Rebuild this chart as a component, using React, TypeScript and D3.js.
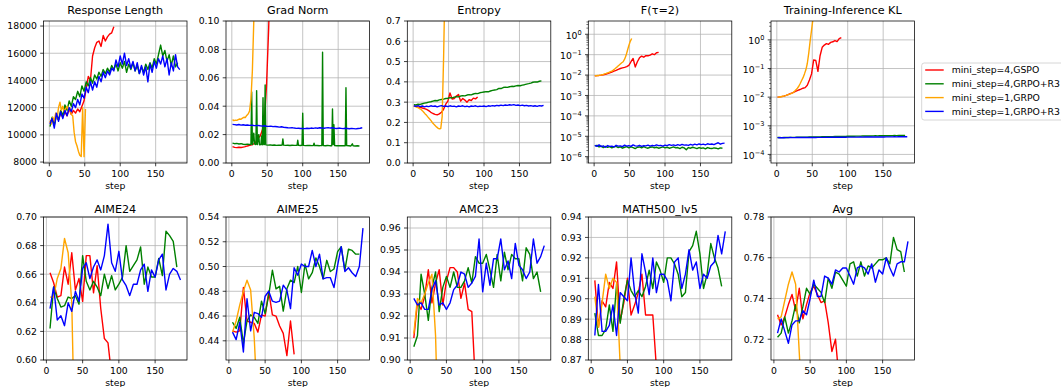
import React from "react";
import * as d3 from "d3";

const FONT = "DejaVu Sans, sans-serif";
const W = 1061;
const H = 387;

const LABELS = ["mini_step=4,GSPO", "mini_step=4,GRPO+R3", "mini_step=1,GRPO", "mini_step=1,GRPO+R3"];
const COLORS = ["red", "green", "orange", "blue"];

// ---- training curves (row 1) ----
const rlRed = [10900, 11200, 10800, 11500, 11100, 11600, 11300, 11700, 11400, 11900, 11500, 11800, 11600, 11900, 11700, 12100, 12500, 13400, 14300, 14000, 15800, 16400, 16800, 16900, 16500, 17300, 16900, 17200, 17400, 17500, 17950];
const rlGreen = [10600, 11300, 10700, 11400, 11100, 11800, 11400, 12200, 11800, 12500,
  12100, 12800, 12600, 13200, 12800, 13600, 13200, 13900, 13600, 14200,
  13800, 14400, 14100, 14600, 14300, 14800, 14500, 14900, 14600, 15100,
  14800, 15200, 14700, 15300, 14900, 15400, 14600, 15200, 14800, 15300,
  14700, 15100, 14500, 15000, 14600, 15200, 14800, 15300, 14900, 15600,
  15200, 15900, 16600, 15800, 16200, 15400, 15900, 15100, 15800, 15000,
  15300];
const rlOrange = [11000, 10800, 11300, 11000, 11600, 11200, 12000, 12400, 11800, 12100, 11700, 11900, 12100, 11800, 12000, 11500, 11400, 10200, 9500, 9200, 8800, 8500, 8400, 12000, 8400, 11900];
const rlBlue = [10800, 11200, 10500, 11600, 11000, 11700, 11200, 11800, 11400, 12000,
  11700, 12300, 12000, 12600, 12200, 13000, 12700, 13500, 13100, 13900,
  13300, 13900, 13500, 14300, 13900, 14600, 14200, 14700, 14400, 14900,
  14700, 15500, 15000, 15800, 15200, 16000, 15100, 15600, 14900, 15400,
  14700, 15300, 14500, 15100, 14400, 15000, 13900, 15200, 14600, 15400,
  14900, 15600, 15200, 15800, 15000, 15600, 14400, 15300, 14700, 15900,
  15000, 14800];

const gnRed = [0.0115, 0.011, 0.0108, 0.0111, 0.0109, 0.0112, 0.0115, 0.012, 0.0124, 0.0128, 0.0135, 0.015, 0.0175, 0.019, 0.023, 0.03, 0.055, 0.095, 0.15];
const gnGreen: [number, number][] = [
  [1, 0.014], [4, 0.0136], [7, 0.0138], [10, 0.0134], [13, 0.0136], [16, 0.0132], [19, 0.013], [22, 0.0133], [25, 0.013], [27, 0.0132],
  [28, 0.05], [29, 0.013], [31, 0.021], [32, 0.0135], [34, 0.013], [35, 0.051], [36, 0.013], [38, 0.02], [39, 0.0128], [41, 0.013],
  [42, 0.019], [43, 0.0128], [44, 0.046], [45, 0.013], [46, 0.013], [47, 0.055], [48, 0.0128], [51, 0.0126], [54, 0.0128], [57, 0.0125],
  [60, 0.0127], [63, 0.0124], [66, 0.0126], [69, 0.0125], [71, 0.0127], [72, 0.017], [73, 0.0126], [76, 0.0124], [79, 0.0125], [82, 0.0123],
  [85, 0.0125], [88, 0.0124], [92, 0.0124], [93, 0.016], [94, 0.0125], [97, 0.0123], [99, 0.0124], [100, 0.035], [101, 0.0124], [104, 0.0122],
  [107, 0.0124], [110, 0.0123], [113, 0.0122], [115, 0.0123], [116, 0.014], [117, 0.0122], [120, 0.0123], [124, 0.0122], [127, 0.0123], [128, 0.078],
  [129, 0.0122], [132, 0.0121], [135, 0.0123], [138, 0.0122], [141, 0.0122], [142, 0.038], [143, 0.013], [144, 0.027], [145, 0.0122], [148, 0.0121],
  [151, 0.0122], [154, 0.0121], [157, 0.0122], [160, 0.0122], [161, 0.053], [162, 0.0122], [165, 0.0121], [168, 0.012], [170, 0.0135], [171, 0.0121],
  [174, 0.012], [177, 0.0121], [180, 0.012],
];
const gnOrange = [0.0305, 0.0298, 0.0302, 0.03, 0.0306, 0.031, 0.0308, 0.0316, 0.0322, 0.032, 0.0335, 0.0345, 0.0365, 0.045, 0.065, 0.1, 0.14];
const gnBlue = [0.0272, 0.027, 0.0268, 0.0271, 0.0267, 0.0269, 0.0266, 0.0268, 0.0265, 0.0267,
  0.0264, 0.0263, 0.0265, 0.0262, 0.026, 0.0262, 0.0259, 0.0258, 0.026, 0.0256,
  0.0257, 0.0255, 0.0253, 0.0255, 0.0252, 0.025, 0.0248, 0.0247, 0.0249, 0.0246,
  0.0244, 0.0245, 0.0243, 0.0244, 0.0242, 0.0245, 0.0243, 0.0246, 0.0244, 0.0247,
  0.0245, 0.0248, 0.0246, 0.0245, 0.0247, 0.0249, 0.0246, 0.0248, 0.0245, 0.0243,
  0.0246, 0.0244, 0.0242, 0.0245, 0.0243, 0.0241, 0.0244, 0.0242, 0.024, 0.0243,
  0.0245, 0.0248];

const entRed = [0.28, 0.279, 0.276, 0.275, 0.271, 0.268, 0.264, 0.258, 0.25, 0.244, 0.24, 0.237, 0.242, 0.25, 0.265, 0.29, 0.305, 0.345, 0.315, 0.318, 0.33, 0.338, 0.305, 0.318, 0.31, 0.3, 0.312, 0.308, 0.32, 0.316, 0.325];
const entGreen = [0.288, 0.286, 0.29, 0.289, 0.292, 0.295, 0.297, 0.3, 0.302, 0.305,
  0.308, 0.307, 0.311, 0.313, 0.315, 0.318, 0.319, 0.322, 0.321, 0.325,
  0.327, 0.326, 0.33, 0.332, 0.331, 0.335, 0.337, 0.336, 0.34, 0.343,
  0.342, 0.346, 0.348, 0.35, 0.352, 0.351, 0.355, 0.358, 0.36, 0.362,
  0.368, 0.367, 0.372, 0.374, 0.373, 0.376, 0.378, 0.377, 0.38, 0.382,
  0.381, 0.384, 0.386, 0.389, 0.391, 0.394, 0.398, 0.4, 0.399, 0.403,
  0.405];
const entOrange = [0.282, 0.278, 0.275, 0.273, 0.268, 0.265, 0.258, 0.25, 0.242, 0.235, 0.226, 0.218, 0.21, 0.2, 0.192, 0.185, 0.178, 0.172, 0.168, 0.17, 0.23, 0.52, 0.9];
const entBlue = [0.282, 0.279, 0.283, 0.278, 0.281, 0.277, 0.28, 0.278, 0.282, 0.279,
  0.281, 0.277, 0.28, 0.283, 0.279, 0.281, 0.278, 0.282, 0.279, 0.28,
  0.277, 0.281, 0.279, 0.282, 0.278, 0.28, 0.277, 0.281, 0.279, 0.282,
  0.278, 0.28, 0.279, 0.281, 0.278, 0.282, 0.28, 0.283, 0.281, 0.284,
  0.282, 0.285, 0.283, 0.286, 0.284, 0.287, 0.285, 0.288, 0.284, 0.286,
  0.283, 0.285, 0.282, 0.284, 0.281, 0.283, 0.28, 0.282, 0.279, 0.283,
  0.281, 0.284];

const fRed = [0.0092, 0.0094, 0.0096, 0.0099, 0.0104, 0.011, 0.0118, 0.0128, 0.014, 0.0155, 0.017, 0.019, 0.021, 0.0225, 0.024, 0.026, 0.03, 0.045, 0.065, 0.025, 0.045, 0.07, 0.085, 0.075, 0.09, 0.088, 0.095, 0.11, 0.1, 0.125, 0.13];
const fGreen = [3.4, 3.6, 3.0, 3.3, 2.8, 3.2, 2.9, 3.1, 2.7, 3.0,
  3.2, 2.8, 3.0, 2.6, 2.9, 3.1, 2.7, 3.0, 2.8, 2.5,
  2.9, 3.0, 2.7, 3.1, 2.8, 2.6, 2.9, 3.0, 2.7, 2.9,
  2.6, 2.8, 3.0, 2.7, 2.9, 2.6, 2.8, 3.0, 2.7, 2.8,
  2.5, 2.9, 2.7, 2.2, 2.8, 2.6, 2.9, 2.7, 2.5, 2.8,
  2.6, 2.7, 2.4, 2.8, 2.6, 2.5, 2.7, 2.6, 2.4, 2.7,
  2.6].map((v) => v * 1e-6);
const fOrange = [0.0092, 0.0093, 0.0095, 0.0097, 0.01, 0.0104, 0.0108, 0.0114, 0.012, 0.0128, 0.0137, 0.0146, 0.0155, 0.0175, 0.02, 0.023, 0.026, 0.03, 0.035, 0.04, 0.045, 0.06, 0.09, 0.16, 0.28, 0.45, 0.62];
const fBlue = [3.6, 3.2, 3.8, 3.1, 3.4, 2.9, 3.5, 3.2, 3.3, 3.0,
  3.6, 3.3, 3.4, 3.1, 3.7, 3.3, 3.5, 3.2, 3.8, 3.4,
  3.3, 3.6, 3.2, 3.5, 3.4, 3.7, 3.3, 3.6, 3.4, 3.8,
  3.5, 3.6, 3.3, 3.7, 3.5, 3.9, 3.6, 3.8, 3.5, 3.9,
  3.6, 4.0, 3.7, 3.8, 3.6, 4.0, 3.7, 4.1, 3.8, 4.2,
  3.9, 4.1, 3.8, 4.3, 4.0, 4.2, 3.9, 4.4, 4.8, 4.1,
  4.5, 4.6].map((v) => v * 1e-6);

const klRed = [0.01, 0.0102, 0.0105, 0.0109, 0.0115, 0.0122, 0.0132, 0.0142, 0.0153, 0.0165, 0.0178, 0.019, 0.0205, 0.0215, 0.026, 0.04, 0.065, 0.2, 0.19, 0.08, 0.28, 0.55, 0.66, 0.74, 0.7, 0.82, 0.86, 0.95, 0.87, 1.1, 1.2];
const klGreen = [3.88, 3.9, 3.87, 3.91, 3.92, 3.9, 3.94, 3.95, 3.93, 3.97,
  3.99, 3.98, 4.01, 4.03, 4.02, 4.05, 4.07, 4.06, 4.09, 4.11,
  4.1, 4.13, 4.15, 4.14, 4.17, 4.19, 4.18, 4.21, 4.23, 4.22,
  4.25, 4.27, 4.26, 4.29, 4.31, 4.3, 4.33, 4.35, 4.34, 4.37,
  4.39, 4.38, 4.41, 4.43, 4.42, 4.45, 4.46, 4.44, 4.47, 4.49,
  4.48, 4.5, 4.52, 4.51, 4.53, 4.55, 4.54, 4.56, 4.58, 4.57,
  4.6].map((v) => v * 1e-4);
const klOrange = [0.01, 0.0101, 0.0103, 0.0105, 0.0108, 0.0111, 0.0115, 0.012, 0.0125, 0.013, 0.0136, 0.0145, 0.016, 0.018, 0.0205, 0.024, 0.03, 0.038, 0.048, 0.065, 0.09, 0.15, 0.34, 0.9, 2.2, 5.5];
const klBlue = [3.85, 3.83, 3.87, 3.84, 3.86, 3.85, 3.88, 3.86, 3.87, 3.89,
  3.88, 3.9, 3.89, 3.91, 3.9, 3.92, 3.91, 3.93, 3.92, 3.94,
  3.93, 3.95, 3.94, 3.96, 3.95, 3.97, 3.96, 3.98, 3.97, 3.99,
  3.98, 4.0, 3.99, 4.01, 4.0, 4.02, 4.01, 4.03, 4.02, 4.04,
  4.03, 4.05, 4.04, 4.06, 4.05, 4.07, 4.06, 4.08, 4.07, 4.09,
  4.08, 4.1, 4.09, 4.11, 4.1, 4.12, 4.11, 4.13, 4.12, 4.14,
  4.13, 4.15].map((v) => v * 1e-4);

// ---- evaluation curves (row 2), every 5 steps starting at 5 ----
const a24Red = [0.661, 0.654, 0.644, 0.645, 0.665, 0.653, 0.675, 0.649, 0.657, 0.641, 0.673, 0.673, 0.647, 0.666, 0.636, 0.615, 0.612, 0.589];
const a24Green = [0.622, 0.651, 0.643, 0.637, 0.638, 0.644, 0.643, 0.645, 0.639, 0.673,
  0.655, 0.649, 0.655, 0.651, 0.645, 0.66, 0.65, 0.659, 0.649, 0.653,
  0.658, 0.68, 0.662, 0.666, 0.67, 0.679, 0.653, 0.665, 0.658, 0.658,
  0.671, 0.659, 0.69, 0.687, 0.683, 0.665];
const a24Orange = [0.644, 0.644, 0.657, 0.664, 0.685, 0.675, 0.64, 0.52];
const a24Blue = [0.636, 0.651, 0.628, 0.631, 0.624, 0.64, 0.634, 0.648, 0.641, 0.664,
  0.668, 0.657, 0.665, 0.67, 0.663, 0.673, 0.695, 0.668, 0.662, 0.676,
  0.656, 0.652, 0.645, 0.653, 0.653, 0.663, 0.667, 0.648, 0.663, 0.658,
  0.67, 0.674, 0.649, 0.66, 0.664, 0.662, 0.656];

const a25Red = [0.448, 0.447, 0.448, 0.483, 0.456, 0.455, 0.454, 0.447, 0.461, 0.46, 0.48, 0.461, 0.46, 0.452, 0.446, 0.428, 0.456, 0.429];
const a25Green = [0.455, 0.45, 0.459, 0.438, 0.456, 0.461, 0.459, 0.454, 0.472, 0.462,
  0.477, 0.497, 0.482, 0.484, 0.464, 0.482, 0.489, 0.487, 0.5, 0.479,
  0.502, 0.49, 0.495, 0.507, 0.5, 0.49, 0.505, 0.496, 0.498, 0.512,
  0.516, 0.497, 0.514, 0.513, 0.51, 0.51];
const a25Orange = [0.447, 0.456, 0.469, 0.48, 0.489, 0.481, 0.442, 0.38];
const a25Blue = [0.447, 0.441, 0.455, 0.431, 0.474, 0.448, 0.463, 0.462, 0.459, 0.476,
  0.48, 0.472, 0.471, 0.472, 0.485, 0.481, 0.466, 0.499, 0.493, 0.502,
  0.5, 0.5, 0.513, 0.5, 0.51, 0.49, 0.491, 0.491, 0.483, 0.501,
  0.516, 0.496, 0.499, 0.495, 0.492, 0.5, 0.531];

const amcRed = [0.91, 0.926, 0.923, 0.929, 0.941, 0.926, 0.935, 0.941, 0.925, 0.936, 0.942, 0.942, 0.94, 0.928, 0.935, 0.923, 0.922, 0.889];
const amcGreen = [0.906, 0.911, 0.939, 0.93, 0.918, 0.933, 0.94, 0.922, 0.933, 0.938,
  0.933, 0.94, 0.933, 0.933, 0.936, 0.942, 0.935, 0.947, 0.944, 0.944,
  0.948, 0.941, 0.933, 0.948, 0.936, 0.949, 0.941, 0.948, 0.946, 0.946,
  0.936, 0.951, 0.948, 0.937, 0.94, 0.931];
const amcOrange = [0.912, 0.928, 0.926, 0.93, 0.935, 0.939, 0.911, 0.85];
const amcBlue = [0.928, 0.925, 0.926, 0.923, 0.923, 0.932, 0.936, 0.925, 0.926, 0.923,
  0.926, 0.932, 0.934, 0.94, 0.939, 0.933, 0.935, 0.938, 0.955, 0.931,
  0.944, 0.934, 0.946, 0.946, 0.955, 0.941, 0.945, 0.937, 0.953, 0.943,
  0.941, 0.937, 0.94, 0.955, 0.944, 0.947, 0.952];

const mathRed = [0.909, 0.886, 0.899, 0.896, 0.908, 0.905, 0.918, 0.889, 0.898, 0.91, 0.892, 0.897, 0.903, 0.912, 0.892, 0.892, 0.892, 0.866];
const mathGreen = [0.893, 0.882, 0.882, 0.885, 0.897, 0.884, 0.907, 0.888, 0.9, 0.909,
  0.904, 0.901, 0.904, 0.901, 0.906, 0.914, 0.905, 0.918, 0.914, 0.908,
  0.92, 0.92, 0.917, 0.912, 0.901, 0.903, 0.923, 0.926, 0.933, 0.922,
  0.905, 0.912, 0.927, 0.92, 0.915, 0.906];
const mathOrange = [0.901, 0.886, 0.898, 0.912, 0.905, 0.91, 0.908, 0.867];
const mathBlue = [0.882, 0.907, 0.884, 0.884, 0.887, 0.897, 0.882, 0.903, 0.901, 0.899,
  0.92, 0.903, 0.893, 0.922, 0.913, 0.902, 0.92, 0.903, 0.912, 0.912,
  0.909, 0.899, 0.918, 0.92, 0.905, 0.912, 0.924, 0.914, 0.918, 0.905,
  0.912, 0.91, 0.916, 0.918, 0.931, 0.922, 0.933];

const avgRed = [0.732, 0.727, 0.731, 0.737, 0.742, 0.734, 0.745, 0.73, 0.737, 0.743, 0.746, 0.742, 0.738, 0.739, 0.728, 0.714, 0.72, 0.7];
const avgGreen = [0.721, 0.723, 0.731, 0.723, 0.729, 0.737, 0.728, 0.736, 0.745, 0.742,
  0.747, 0.745, 0.743, 0.738, 0.75, 0.745, 0.753, 0.752, 0.749, 0.746,
  0.757, 0.758, 0.751, 0.758, 0.751, 0.756, 0.755, 0.757, 0.759, 0.759,
  0.76, 0.757, 0.77, 0.764, 0.763, 0.753];
const avgOrange = [0.73, 0.731, 0.739, 0.747, 0.753, 0.747, 0.7135, 0.68];
const avgBlue = [0.723, 0.73, 0.724, 0.718, 0.727, 0.729, 0.729, 0.734, 0.732, 0.74,
  0.749, 0.741, 0.741, 0.751, 0.75, 0.747, 0.754, 0.753, 0.755, 0.755,
  0.751, 0.747, 0.755, 0.756, 0.755, 0.752, 0.757, 0.748, 0.754, 0.752,
  0.76, 0.755, 0.751, 0.757, 0.758, 0.758, 0.768];

type Pt = [number, number];
const seq = (vals: number[], start: number, stride: number): Pt[] =>
  vals.map((v, i) => [start + i * stride, v] as Pt);
const evalSeq = (vals: number[]) => seq(vals, 5, 5);

// layout (px)
const LEFTS = [43.5, 226, 407.3, 588.3, 771];
const AX_W = 143.5;
const ROWS = [
  { top: 21, bottom: 163, titleY: 14.3, xDomain: [-8.2, 194.2] },
  { top: 217, bottom: 360, titleY: 212.7, xDomain: [-4, 194] },
];
const TICK = 3.3;

interface PanelCfg {
  title: string;
  row: number;
  col: number;
  yDomain: [number, number];
  log?: boolean;
  yTicks?: number[];
  fmt?: (v: number) => string;
  series: Pt[][]; // red, green, orange, blue
}

const f2 = d3.format(".2f");
const f1 = d3.format(".1f");

const panels: PanelCfg[] = [
  { title: "Response Length", row: 0, col: 0, yDomain: [7930, 18370], yTicks: d3.range(8000, 18001, 2000), fmt: (v) => String(v),
    series: [seq(rlRed, 1, 3), seq(rlGreen, 1, 3), seq(rlOrange, 1, 2), seq(rlBlue, 1, 3)] },
  { title: "Grad Norm", row: 0, col: 1, yDomain: [0, 0.1], yTicks: [0, 0.02, 0.04, 0.06, 0.08, 0.1], fmt: f2,
    series: [seq(gnRed, 1, 3), gnGreen, seq(gnOrange, 1, 2), seq(gnBlue, 1, 3)] },
  { title: "Entropy", row: 0, col: 2, yDomain: [0, 0.7], yTicks: [0, 0.1, 0.2, 0.3, 0.4, 0.5, 0.6, 0.7], fmt: f1,
    series: [seq(entRed, 1, 3), seq(entGreen, 1, 3), seq(entOrange, 1, 2), seq(entBlue, 1, 3)] },
  { title: "F(τ=2)", row: 0, col: 3, yDomain: [Math.pow(10, -6.31), Math.pow(10, 0.65)], log: true,
    series: [seq(fRed, 1, 3), seq(fGreen, 1, 3), seq(fOrange, 1, 2), seq(fBlue, 1, 3)] },
  { title: "Training-Inference KL", row: 0, col: 4, yDomain: [Math.pow(10, -4.3), Math.pow(10, 0.66)], log: true,
    series: [seq(klRed, 1, 3), seq(klGreen, 1, 3), seq(klOrange, 1, 2), seq(klBlue, 1, 3)] },
  { title: "AIME24", row: 1, col: 0, yDomain: [0.6, 0.7], yTicks: [0.6, 0.62, 0.64, 0.66, 0.68, 0.7], fmt: f2,
    series: [evalSeq(a24Red), evalSeq(a24Green), evalSeq(a24Orange), evalSeq(a24Blue)] },
  { title: "AIME25", row: 1, col: 1, yDomain: [0.4245, 0.54], yTicks: [0.44, 0.46, 0.48, 0.5, 0.52, 0.54], fmt: f2,
    series: [evalSeq(a25Red), evalSeq(a25Green), evalSeq(a25Orange), evalSeq(a25Blue)] },
  { title: "AMC23", row: 1, col: 2, yDomain: [0.9, 0.965], yTicks: [0.9, 0.91, 0.92, 0.93, 0.94, 0.95, 0.96], fmt: f2,
    series: [evalSeq(amcRed), evalSeq(amcGreen), evalSeq(amcOrange), evalSeq(amcBlue)] },
  { title: "MATH500_lv5", row: 1, col: 3, yDomain: [0.87, 0.94], yTicks: [0.87, 0.88, 0.89, 0.9, 0.91, 0.92, 0.93, 0.94], fmt: f2,
    series: [evalSeq(mathRed), evalSeq(mathGreen), evalSeq(mathOrange), evalSeq(mathBlue)] },
  { title: "Avg", row: 1, col: 4, yDomain: [0.7098, 0.78], yTicks: [0.72, 0.74, 0.76, 0.78], fmt: f2,
    series: [evalSeq(avgRed), evalSeq(avgGreen), evalSeq(avgOrange), evalSeq(avgBlue)] },
];

const X_TICKS = [0, 50, 100, 150];

function Panel({ p }: { p: PanelCfg }) {
  const r = ROWS[p.row];
  const x0 = LEFTS[p.col];
  const x = d3.scaleLinear().domain(r.xDomain).range([x0, x0 + AX_W]);
  const y = p.log
    ? d3.scaleLog().domain(p.yDomain).range([r.bottom, r.top])
    : d3.scaleLinear().domain(p.yDomain).range([r.bottom, r.top]);
  const line = d3
    .line<Pt>()
    .x((d) => x(d[0]))
    .y((d) => y(d[1]));
  const clipId = `clip-${p.row}-${p.col}`;

  let major: number[] = p.yTicks ?? [];
  const minor: number[] = [];
  if (p.log) {
    const lo = Math.floor(Math.log10(p.yDomain[0]));
    const hi = Math.ceil(Math.log10(p.yDomain[1]));
    major = [];
    for (let k = lo; k <= hi; k++) {
      const v = Math.pow(10, k);
      if (v >= p.yDomain[0] && v <= p.yDomain[1]) major.push(k);
      for (let m = 2; m <= 9; m++) {
        const mv = m * v;
        if (mv >= p.yDomain[0] && mv <= p.yDomain[1]) minor.push(mv);
      }
    }
  }
  const yOf = (t: number) => (p.log ? y(Math.pow(10, t)) : y(t));

  return (
    <g>
      <defs>
        <clipPath id={clipId}>
          <rect x={x0} y={r.top} width={AX_W} height={r.bottom - r.top} />
        </clipPath>
      </defs>
      {/* grid */}
      <g stroke="#b0b0b0" strokeWidth={0.75}>
        {X_TICKS.map((t) => (
          <line key={`gx${t}`} x1={x(t)} x2={x(t)} y1={r.top} y2={r.bottom} />
        ))}
        {major.map((t) => (
          <line key={`gy${t}`} x1={x0} x2={x0 + AX_W} y1={yOf(t)} y2={yOf(t)} />
        ))}
      </g>
      {/* series */}
      <g clipPath={`url(#${clipId})`} fill="none" strokeWidth={1.4} strokeLinejoin="round">
        {p.series.map((s, i) => (
          <path key={i} d={line(s) ?? ""} stroke={COLORS[i]} />
        ))}
      </g>
      {/* frame */}
      <rect x={x0} y={r.top} width={AX_W} height={r.bottom - r.top} fill="none" stroke="black" strokeWidth={0.75} />
      {/* ticks */}
      <g stroke="black" strokeWidth={0.75}>
        {X_TICKS.map((t) => (
          <line key={`tx${t}`} x1={x(t)} x2={x(t)} y1={r.bottom} y2={r.bottom + TICK} />
        ))}
        {major.map((t) => (
          <line key={`ty${t}`} x1={x0 - TICK} x2={x0} y1={yOf(t)} y2={yOf(t)} />
        ))}
        {minor.map((t, i) => (
          <line key={`tm${i}`} x1={x0 - 1.9} x2={x0} y1={y(t)} y2={y(t)} strokeWidth={0.55} />
        ))}
      </g>
      <g fontFamily={FONT} fontSize={9.3} fill="#000">
        {X_TICKS.map((t) => (
          <text key={`lx${t}`} x={x(t)} y={r.bottom + 13.8} textAnchor="middle">
            {t}
          </text>
        ))}
        {major.map((t) =>
          p.log ? (
            <text key={`ly${t}`} x={x0 - 6.6} y={yOf(t) + 4.6} textAnchor="end">
              10
              <tspan dy={-4.3} fontSize={6.6}>
                {t < 0 ? `\u2212${-t}` : `${t}`}
              </tspan>
            </text>
          ) : (
            <text key={`ly${t}`} x={x0 - 6.6} y={yOf(t) + 3.4} textAnchor="end">
              {p.fmt ? p.fmt(t) : t}
            </text>
          )
        )}
        <text x={x0 + AX_W / 2} y={r.bottom + 25.5} textAnchor="middle">
          step
        </text>
        <text x={x0 + AX_W / 2} y={r.titleY} textAnchor="middle" fontSize={11.2}>
          {p.title}
        </text>
      </g>
    </g>
  );
}

function Legend() {
  const lx = 921.7;
  const ly = 63;
  const rowH = 13.8;
  return (
    <g fontFamily={FONT} fontSize={9.3}>
      <rect x={lx} y={ly} width={160} height={57} rx={2.5} fill="white" fillOpacity={0.8} stroke="#cccccc" strokeWidth={0.8} />
      {LABELS.map((lab, i) => {
        const cy = ly + 7 + i * rowH;
        return (
          <g key={lab}>
            <line x1={lx + 3.5} x2={lx + 22} y1={cy} y2={cy} stroke={COLORS[i]} strokeWidth={1.4} />
            <text x={lx + 30} y={cy + 3.4} fill="#000">
              {lab}
            </text>
          </g>
        );
      })}
    </g>
  );
}

export default function App() {
  return (
    <svg
      width={W}
      height={H}
      viewBox={`0 0 ${W} ${H}`}
      style={{ position: "absolute", left: 0, top: 0, background: "white" }}
    >
      <rect width={W} height={H} fill="white" />
      {panels.map((p) => (
        <Panel key={p.title} p={p} />
      ))}
      <Legend />
    </svg>
  );
}
